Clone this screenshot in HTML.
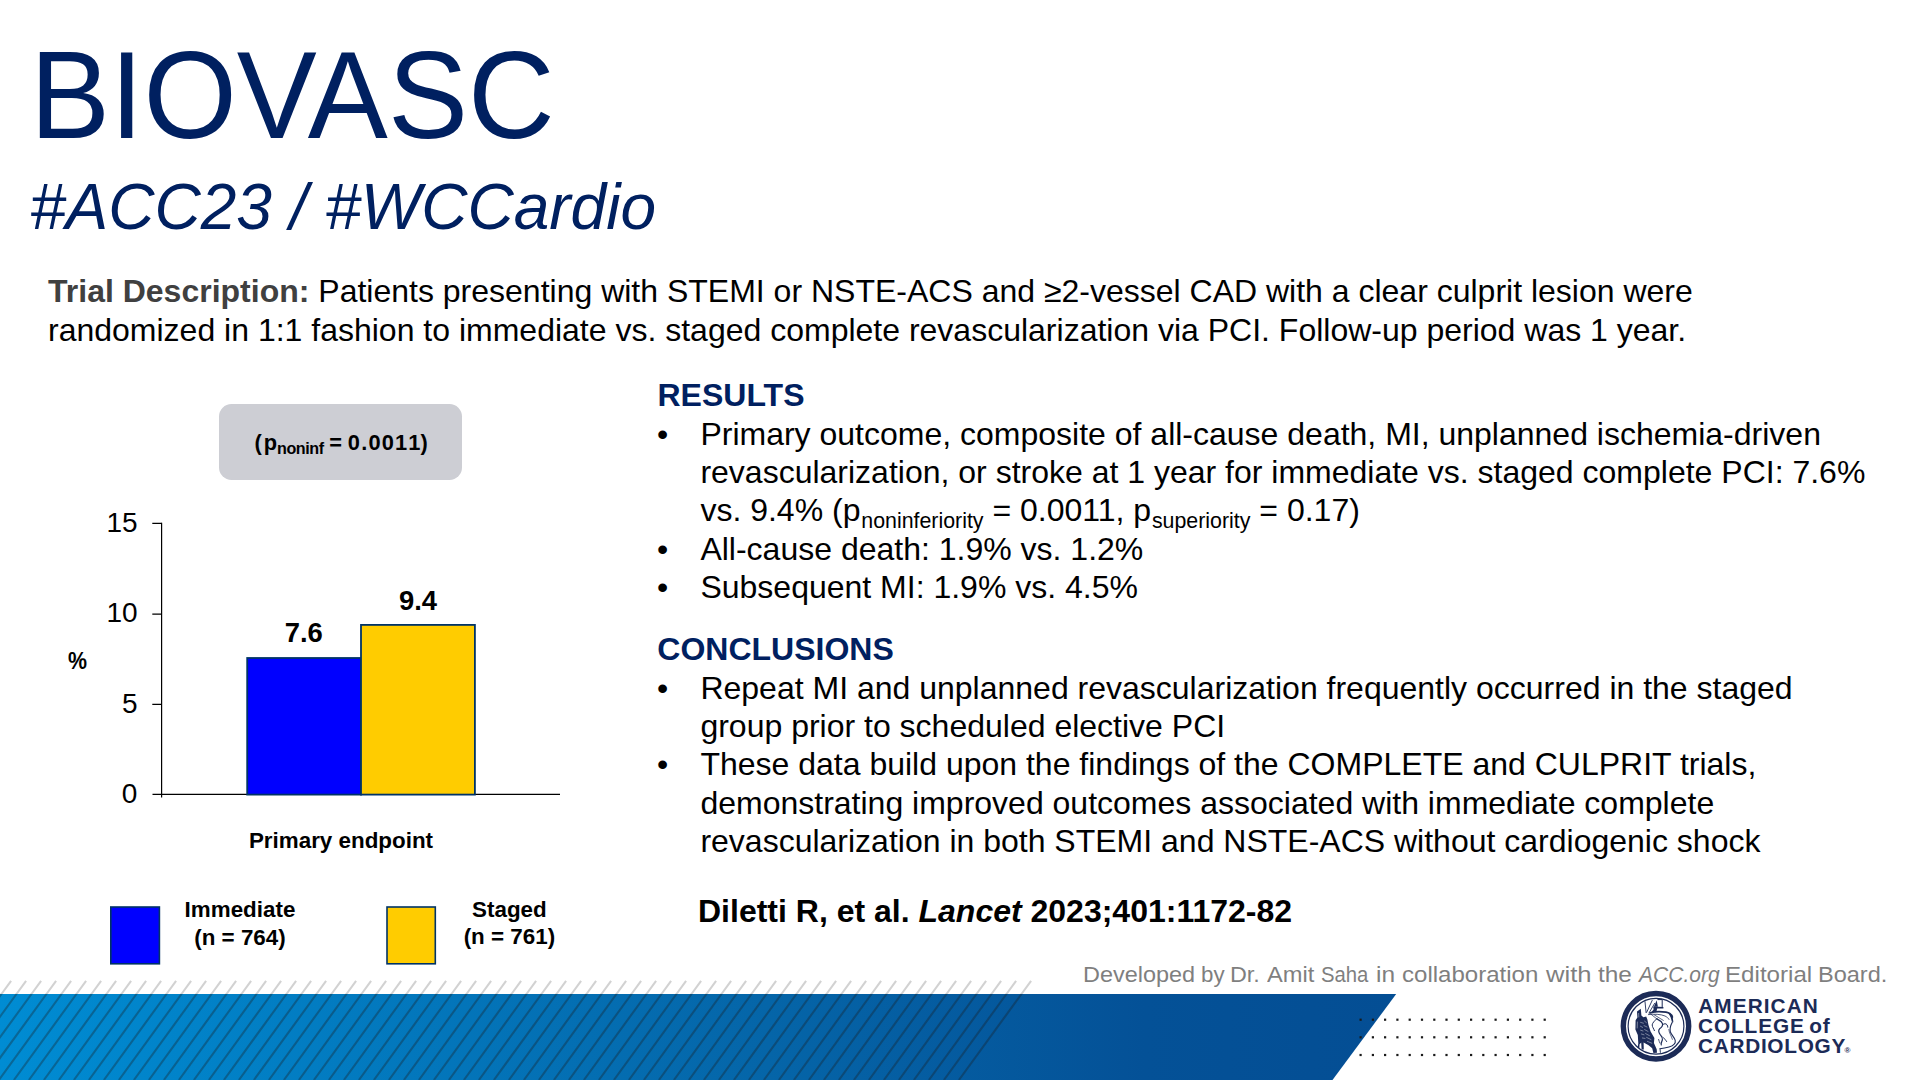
<!DOCTYPE html>
<html lang="en">
<head>
<meta charset="utf-8">
<title>BIOVASC</title>
<style>
html,body{margin:0;padding:0;background:#fff;}
body{width:1920px;height:1080px;position:relative;overflow:hidden;font-family:"Liberation Sans",sans-serif;color:#000;}
.t{position:absolute;white-space:nowrap;line-height:1;margin:0;padding:0;}
.navy{color:#002060;}
.b{font-weight:bold;}
.i{font-style:italic;}
.body{font-size:32px;}
.c{transform:translateX(-50%);}
.w{position:absolute;top:0;left:0;transform-origin:0 0;display:block;}
.lg{font-size:20.8px;color:#1c2b57;letter-spacing:0.9px;}
sub.ps{font-size:74%;vertical-align:baseline;position:relative;top:0.27em;letter-spacing:-0.45px;}
sub.s{font-size:66.8%;vertical-align:baseline;position:relative;top:0.32em;margin-left:0.8px;margin-right:0;}
</style>
</head>
<body>

<!-- Title -->
<div class="t navy" id="title" style="left:30px;top:36.2px;font-size:120px;transform-origin:0 101.6px;transform:scaleY(1.032);">BIOVASC</div>
<div class="t navy i" id="subtitle" style="left:30px;top:174.6px;font-size:64px;transform-origin:0 54.2px;transform:scaleY(1.022);">#ACC23 / #WCCardio</div>

<!-- Description -->
<div class="t body" id="d1" style="left:48px;top:275px;"><span class="b" style="color:#404040;">Trial Description:</span> Patients presenting with STEMI or NSTE-ACS and ≥2-vessel CAD with a clear culprit lesion were</div>
<div class="t body" id="d2" style="left:48px;top:314px;">randomized in 1:1 fashion to immediate vs. staged complete revascularization via PCI. Follow-up period was 1 year.</div>


<!-- Results -->
<div class="t navy b" id="rh" style="left:657.5px;top:378.8px;font-size:32px;">RESULTS</div>
<div class="t body bl" id="b1" style="left:657px;top:418px;">•</div>
<div class="t body" id="r1" style="left:700.4px;top:418px;">Primary outcome, composite of all-cause death, MI, unplanned ischemia-driven</div>
<div class="t body" id="r2" style="left:700.4px;top:456px;">revascularization, or stroke at 1 year for immediate vs. staged complete PCI: 7.6%</div>
<div class="t body" id="r3" style="left:700.4px;top:494px;">vs. 9.4% (p<sub class="s">noninferiority</sub> = 0.0011, p<sub class="s">superiority</sub> = 0.17)</div>
<div class="t body bl" id="b2" style="left:657px;top:532.8px;">•</div>
<div class="t body" id="r4" style="left:700.4px;top:532.8px;">All-cause death: 1.9% vs. 1.2%</div>
<div class="t body bl" id="b3" style="left:657px;top:571px;">•</div>
<div class="t body" id="r5" style="left:700.4px;top:571px;">Subsequent MI: 1.9% vs. 4.5%</div>

<!-- Conclusions -->
<div class="t navy b" id="ch" style="left:657.3px;top:633.3px;font-size:32px;">CONCLUSIONS</div>
<div class="t body bl" id="b4" style="left:657px;top:672px;">•</div>
<div class="t body" id="c1" style="left:700.4px;top:672px;">Repeat MI and unplanned revascularization frequently occurred in the staged</div>
<div class="t body" id="c2" style="left:700.4px;top:710px;">group prior to scheduled elective PCI</div>
<div class="t body bl" id="b5" style="left:657px;top:748.4px;">•</div>
<div class="t body" id="c3" style="left:700.4px;top:748.4px;">These data build upon the findings of the COMPLETE and CULPRIT trials,</div>
<div class="t body" id="c4" style="left:700.4px;top:786.7px;">demonstrating improved outcomes associated with immediate complete</div>
<div class="t body" id="c5" style="left:700.4px;top:825px;">revascularization in both STEMI and NSTE-ACS without cardiogenic shock</div>

<!-- Citation -->
<div class="t b" id="cite" style="left:698px;top:895.3px;font-size:32px;">Diletti R, et al. <span class="i">Lancet</span> 2023;401:1172-82</div>


<!-- P-value box -->
<div id="pbox" style="position:absolute;left:219px;top:404px;width:243px;height:76px;border-radius:12.5px;background:#cdced4;"></div>
<div class="t b" id="ptxt" style="left:254.5px;top:431.8px;font-size:21.8px;"><span style="letter-spacing:1.9px">(</span>p<sub class="ps">noninf</sub><span style="word-spacing:-0.3px"> = </span><span style="letter-spacing:1.2px">0.001</span>1)</div>

<!-- Chart -->
<svg id="chart" width="640" height="480" viewBox="0 500 640 480" style="position:absolute;left:0;top:500px;overflow:visible;">
  <g stroke="#000" stroke-width="1.2" fill="none">
    <path d="M161.6 522.8V797.5"/>
    <path d="M152.3 523.3H161.6M152.3 614.1H161.6M152.3 704.3H161.6"/>
    <path d="M152.5 794.3H560"/>
  </g>
  <rect x="247.2" y="658" width="113.8" height="136.6" fill="#0000ff" stroke="#003366" stroke-width="1.8"/>
  <rect x="361" y="624.9" width="113.9" height="169.7" fill="#ffcc00" stroke="#003366" stroke-width="1.8"/>
  <rect x="110.8" y="907" width="48.6" height="56.8" fill="#0000ff" stroke="#003366" stroke-width="1.6"/>
  <rect x="387" y="907" width="48.3" height="56.8" fill="#ffcc00" stroke="#003366" stroke-width="1.6"/>
</svg>
<div class="t" id="y15" style="left:137.6px;top:508.6px;font-size:28px;transform:translateX(-100%);">15</div>
<div class="t" id="y10" style="left:137.6px;top:599.3px;font-size:28px;transform:translateX(-100%);">10</div>
<div class="t" id="y5" style="left:137.6px;top:689.7px;font-size:28px;transform:translateX(-100%);">5</div>
<div class="t" id="y0" style="left:137.3px;top:780.2px;font-size:28px;transform:translateX(-100%);">0</div>
<div class="t b" id="pct" style="left:68px;top:650.5px;font-size:22.5px;transform-origin:0 50%;transform:scale(0.95,1.03);">%</div>
<div class="t b c" id="v76" style="left:303.8px;top:618.6px;font-size:27.4px;">7.6</div>
<div class="t b c" id="v94" style="left:418px;top:586.6px;font-size:27.4px;">9.4</div>
<div class="t b c" id="pe" style="left:341px;top:830px;font-size:22.4px;">Primary endpoint</div>
<div class="t b c" id="l1a" style="left:240px;top:899px;font-size:22.4px;">Immediate</div>
<div class="t b c" id="l1b" style="left:240px;top:927px;font-size:22.4px;">(n = 764)</div>
<div class="t b c" id="l2a" style="left:509.4px;top:899px;font-size:22.4px;">Staged</div>
<div class="t b c" id="l2b" style="left:509.4px;top:926px;font-size:22.4px;">(n = 761)</div>


<!-- Footer -->
<svg id="footer" width="1920" height="110" viewBox="0 970 1920 110" style="position:absolute;left:0;top:970px;">
  <defs>
    <linearGradient id="bg" x1="0" y1="0" x2="1396" y2="0" gradientUnits="userSpaceOnUse">
      <stop offset="0" stop-color="#008cd3"/>
      <stop offset="0.55" stop-color="#0565a8"/>
      <stop offset="0.82" stop-color="#045197"/>
      <stop offset="1" stop-color="#044e94"/>
    </linearGradient>
  </defs>
  <path d="M0 994H1396.2L1332.5 1080H0Z" fill="url(#bg)"/>
  <path d="M11.1 980.8L1.5 994M26.1 980.8L16.5 994M41.1 980.8L31.5 994M56.1 980.8L46.5 994M71.1 980.8L61.5 994M86.1 980.8L76.5 994M101.1 980.8L91.5 994M116.1 980.8L106.5 994M131.1 980.8L121.5 994M146.1 980.8L136.5 994M161.1 980.8L151.5 994M176.1 980.8L166.5 994M191.1 980.8L181.5 994M206.1 980.8L196.5 994M221.1 980.8L211.5 994M236.1 980.8L226.5 994M251.1 980.8L241.5 994M266.1 980.8L256.5 994M281.1 980.8L271.5 994M296.1 980.8L286.5 994M311.1 980.8L301.5 994M326.1 980.8L316.5 994M341.1 980.8L331.5 994M356.1 980.8L346.5 994M371.1 980.8L361.5 994M386.1 980.8L376.5 994M401.1 980.8L391.5 994M416.1 980.8L406.5 994M431.1 980.8L421.5 994M446.1 980.8L436.5 994M461.1 980.8L451.5 994M476.1 980.8L466.5 994M491.1 980.8L481.5 994M506.1 980.8L496.5 994M521.1 980.8L511.5 994M536.1 980.8L526.5 994M551.1 980.8L541.5 994M566.1 980.8L556.5 994M581.1 980.8L571.5 994M596.1 980.8L586.5 994M611.1 980.8L601.5 994M626.1 980.8L616.5 994M641.1 980.8L631.5 994M656.1 980.8L646.5 994M671.1 980.8L661.5 994M686.1 980.8L676.5 994M701.1 980.8L691.5 994M716.1 980.8L706.5 994M731.1 980.8L721.5 994M746.1 980.8L736.5 994M761.1 980.8L751.5 994M776.1 980.8L766.5 994M791.1 980.8L781.5 994M806.1 980.8L796.5 994M821.1 980.8L811.5 994M836.1 980.8L826.5 994M851.1 980.8L841.5 994M866.1 980.8L856.5 994M881.1 980.8L871.5 994M896.1 980.8L886.5 994M911.1 980.8L901.5 994M926.1 980.8L916.5 994M941.1 980.8L931.5 994M956.1 980.8L946.5 994M971.1 980.8L961.5 994M986.1 980.8L976.5 994M1001.1 980.8L991.5 994M1016.1 980.8L1006.5 994M1031.1 980.8L1021.5 994" stroke="#202020" stroke-opacity="0.2" stroke-width="2.1" fill="none"/>
  <path d="M1.5 994L-61.1 1080M16.5 994L-46.1 1080M31.5 994L-31.1 1080M46.5 994L-16.1 1080M61.5 994L-1.1 1080M76.5 994L13.9 1080M91.5 994L28.9 1080M106.5 994L43.9 1080M121.5 994L58.9 1080M136.5 994L73.9 1080M151.5 994L88.9 1080M166.5 994L103.9 1080M181.5 994L118.9 1080M196.5 994L133.9 1080M211.5 994L148.9 1080M226.5 994L163.9 1080M241.5 994L178.9 1080M256.5 994L193.9 1080M271.5 994L208.9 1080M286.5 994L223.9 1080M301.5 994L238.9 1080M316.5 994L253.9 1080M331.5 994L268.9 1080M346.5 994L283.9 1080M361.5 994L298.9 1080M376.5 994L313.9 1080M391.5 994L328.9 1080M406.5 994L343.9 1080M421.5 994L358.9 1080M436.5 994L373.9 1080M451.5 994L388.9 1080M466.5 994L403.9 1080M481.5 994L418.9 1080M496.5 994L433.9 1080M511.5 994L448.9 1080M526.5 994L463.9 1080M541.5 994L478.9 1080M556.5 994L493.9 1080M571.5 994L508.9 1080M586.5 994L523.9 1080M601.5 994L538.9 1080M616.5 994L553.9 1080M631.5 994L568.9 1080M646.5 994L583.9 1080M661.5 994L598.9 1080M676.5 994L613.9 1080M691.5 994L628.9 1080M706.5 994L643.9 1080M721.5 994L658.9 1080M736.5 994L673.9 1080M751.5 994L688.9 1080M766.5 994L703.9 1080M781.5 994L718.9 1080M796.5 994L733.9 1080M811.5 994L748.9 1080M826.5 994L763.9 1080M841.5 994L778.9 1080M856.5 994L793.9 1080M871.5 994L808.9 1080M886.5 994L823.9 1080M901.5 994L838.9 1080M916.5 994L853.9 1080M931.5 994L868.9 1080M946.5 994L883.9 1080M961.5 994L898.9 1080M976.5 994L913.9 1080M991.5 994L928.9 1080M1006.5 994L943.9 1080M1021.5 994L958.9 1080" stroke="#1a1a1a" stroke-opacity="0.33" stroke-width="2.1" fill="none"/>
  <g fill="#1a1a1a"><rect x="1359.5" y="1018.6" width="2.2" height="2.2"/><rect x="1371.8" y="1018.6" width="2.2" height="2.2"/><rect x="1384.0" y="1018.6" width="2.2" height="2.2"/><rect x="1396.3" y="1018.6" width="2.2" height="2.2"/><rect x="1408.6" y="1018.6" width="2.2" height="2.2"/><rect x="1420.9" y="1018.6" width="2.2" height="2.2"/><rect x="1433.2" y="1018.6" width="2.2" height="2.2"/><rect x="1445.4" y="1018.6" width="2.2" height="2.2"/><rect x="1457.7" y="1018.6" width="2.2" height="2.2"/><rect x="1470.0" y="1018.6" width="2.2" height="2.2"/><rect x="1482.2" y="1018.6" width="2.2" height="2.2"/><rect x="1494.5" y="1018.6" width="2.2" height="2.2"/><rect x="1506.8" y="1018.6" width="2.2" height="2.2"/><rect x="1519.1" y="1018.6" width="2.2" height="2.2"/><rect x="1531.3" y="1018.6" width="2.2" height="2.2"/><rect x="1543.6" y="1018.6" width="2.2" height="2.2"/><rect x="1359.5" y="1036.2" width="2.2" height="2.2"/><rect x="1371.8" y="1036.2" width="2.2" height="2.2"/><rect x="1384.0" y="1036.2" width="2.2" height="2.2"/><rect x="1396.3" y="1036.2" width="2.2" height="2.2"/><rect x="1408.6" y="1036.2" width="2.2" height="2.2"/><rect x="1420.9" y="1036.2" width="2.2" height="2.2"/><rect x="1433.2" y="1036.2" width="2.2" height="2.2"/><rect x="1445.4" y="1036.2" width="2.2" height="2.2"/><rect x="1457.7" y="1036.2" width="2.2" height="2.2"/><rect x="1470.0" y="1036.2" width="2.2" height="2.2"/><rect x="1482.2" y="1036.2" width="2.2" height="2.2"/><rect x="1494.5" y="1036.2" width="2.2" height="2.2"/><rect x="1506.8" y="1036.2" width="2.2" height="2.2"/><rect x="1519.1" y="1036.2" width="2.2" height="2.2"/><rect x="1531.3" y="1036.2" width="2.2" height="2.2"/><rect x="1543.6" y="1036.2" width="2.2" height="2.2"/><rect x="1359.5" y="1053.9" width="2.2" height="2.2"/><rect x="1371.8" y="1053.9" width="2.2" height="2.2"/><rect x="1384.0" y="1053.9" width="2.2" height="2.2"/><rect x="1396.3" y="1053.9" width="2.2" height="2.2"/><rect x="1408.6" y="1053.9" width="2.2" height="2.2"/><rect x="1420.9" y="1053.9" width="2.2" height="2.2"/><rect x="1433.2" y="1053.9" width="2.2" height="2.2"/><rect x="1445.4" y="1053.9" width="2.2" height="2.2"/><rect x="1457.7" y="1053.9" width="2.2" height="2.2"/><rect x="1470.0" y="1053.9" width="2.2" height="2.2"/><rect x="1482.2" y="1053.9" width="2.2" height="2.2"/><rect x="1494.5" y="1053.9" width="2.2" height="2.2"/><rect x="1506.8" y="1053.9" width="2.2" height="2.2"/><rect x="1519.1" y="1053.9" width="2.2" height="2.2"/><rect x="1531.3" y="1053.9" width="2.2" height="2.2"/><rect x="1543.6" y="1053.9" width="2.2" height="2.2"/></g>
</svg>
<div class="t" id="dev" style="left:1083px;top:963.8px;font-size:22px;color:#7f7f7f;width:810px;height:24px;">
<span class="w" style="left:-0.4px;transform:scaleX(1.065)">Developed</span>
<span class="w" style="left:117.7px;transform:scaleX(1.014)">by</span>
<span class="w" style="left:147.4px;transform:scaleX(1.062)">Dr.</span>
<span class="w" style="left:183.7px;transform:scaleX(1.075)">Amit</span>
<span class="w" style="left:238.1px;transform:scaleX(0.922)">Saha</span>
<span class="w" style="left:293.4px;transform:scaleX(1.113)">in</span>
<span class="w" style="left:318.9px;transform:scaleX(1.093)">collaboration</span>
<span class="w" style="left:462.8px;transform:scaleX(1.163)">with</span>
<span class="w" style="left:514.5px;transform:scaleX(1.110)">the</span>
<span class="w i" style="left:555.5px;transform:scaleX(0.956)">ACC.org</span>
<span class="w" style="left:641.8px;transform:scaleX(1.097)">Editorial</span>
<span class="w" style="left:734.7px;transform:scaleX(1.069)">Board.</span>
</div>

<!-- Logo -->
<svg id="logo" width="80" height="80" viewBox="0 0 80 80" style="position:absolute;left:1616px;top:986px;">
  <circle cx="40" cy="40.25" r="32.7" fill="none" stroke="#1c2b57" stroke-width="5.4"/>
  <circle cx="40" cy="40.25" r="27.9" fill="none" stroke="#1c2b57" stroke-width="1.2"/>
  <g fill="#1c2b57" stroke="none">
    <path d="M21 25.4L24.8 22.8L25.4 29.6L27.4 31.2L30.2 30.4L31.4 33.6L32.4 38.8L34.6 45.4L38.4 52L37.9 57L40.7 63.2L41 66.8L37.4 67L36.2 62.2L32.6 59.2L27.6 56.4L27.8 63.6L25.6 63.4L25.2 56.6L23.6 58.2L23.2 62.6L21.6 61.6L22.3 57.4L21.8 49L19.4 43.4L19.6 34.2L21.4 31.6Z"/>
    <path d="M37.9 20.7L40.7 14.3L41.9 20.7Z"/>
    <path d="M37.2 20.6L47.4 21L47.4 22.4L41.2 22.4L40.2 26.2L35 26.4L37.6 23.4Z"/>
    <path d="M52.6 27.4L56.4 28.8L57.4 36.2L55.8 35.4L54.6 31.2Z"/>
  </g>
  <g fill="none" stroke="#1c2b57" stroke-linecap="round" stroke-linejoin="round">
    <path d="M41.9 13.6H46.2V21" stroke-width="1"/>
    <path d="M29 15.6L30.1 26.6M36.2 14.4L30.7 26.2M38.6 17.4L33 27" stroke-width="0.9"/>
    <path d="M34 27C38 25.6 45 25.4 50 26.2C53 26.8 55.4 28.4 56.4 31" stroke-width="1.7"/>
    <path d="M32.4 28.6C38 27.8 45 28.2 49 30C51 31 52.4 32.2 53 33.4" stroke-width="0.8"/>
    <path d="M38.4 28.9L47.3 34.4M35.2 28.4L40.7 32.8" stroke-width="0.7"/>
    <path d="M56.4 36C54.6 39.4 53.6 42.4 54.2 45.4C54.8 48.4 58.6 51.4 59.2 54.4C59.8 57.4 58 59.6 53 61C50 61.8 47 62.4 44 62.8" stroke-width="1.1"/>
    <path d="M52.8 43.4C53 46.6 55.4 50 56.4 53.4" stroke-width="0.7"/>
    <path d="M40.7 32.8C38.6 35 36.4 36.8 36.2 38.9C36.2 41 37.8 42.6 38.4 44.6" stroke-width="1"/>
    <path d="M40.7 32.8C43 34 45.4 35.2 46.4 37.4C47.4 39.8 45.4 41.4 43.6 42.8C42 44.4 42.8 46.6 44.2 48.6C45.6 50.4 46.8 51.4 46.4 53.6C46 55.6 44.8 57 45.2 59" stroke-width="1.2"/>
    <path d="M46.8 38.6C48.2 37.4 50 37.4 51 38.8C51.6 39.6 51.8 40.4 51.8 41.2" stroke-width="1"/>
    <path d="M46.8 51.2C48.4 52.4 49.8 53.8 50.7 55.6" stroke-width="0.9"/>
    <path d="M42.6 53.4C43 55 43.4 56 44 57.2" stroke-width="0.8"/>
    <path d="M44 62.8L44.4 66.4" stroke-width="0.9"/>
  </g>
  <g fill="none" stroke="#fff" stroke-width="0.7" stroke-opacity="0.6" stroke-linecap="round">
    <path d="M24.6 36.4L27.4 37.2M28.6 35.2L30.4 36.6M24.4 40.2L26.6 41.4M28 39.6L31 41M24.6 44.2L27 45M28.6 43.6L32 45.4M25.4 48L28 48.8M29.6 47.6L33.4 49.6M26.4 52L29 52.4M30.6 51.4L35 53.6M31.4 55.4L35.8 57.2"/>
    <path d="M22.6 27.4L22.8 31M21.4 36L21.2 42"/>
  </g>
</svg>
<div class="t b lg" id="lg1" style="left:1698.3px;top:995.6px;letter-spacing:1.05px;">AMERICAN</div>
<div class="t b lg" id="lg2" style="left:1698px;top:1015.6px;word-spacing:-2.3px;">COLLEGE <span style="text-transform:none">of</span></div>
<div class="t b lg" id="lg3" style="left:1698px;top:1036px;letter-spacing:0.7px;">CARDIOLOGY<span style="font-size:8px;position:relative;top:0px;letter-spacing:0;margin-left:-1.5px;">®</span></div>

</body>
</html>
